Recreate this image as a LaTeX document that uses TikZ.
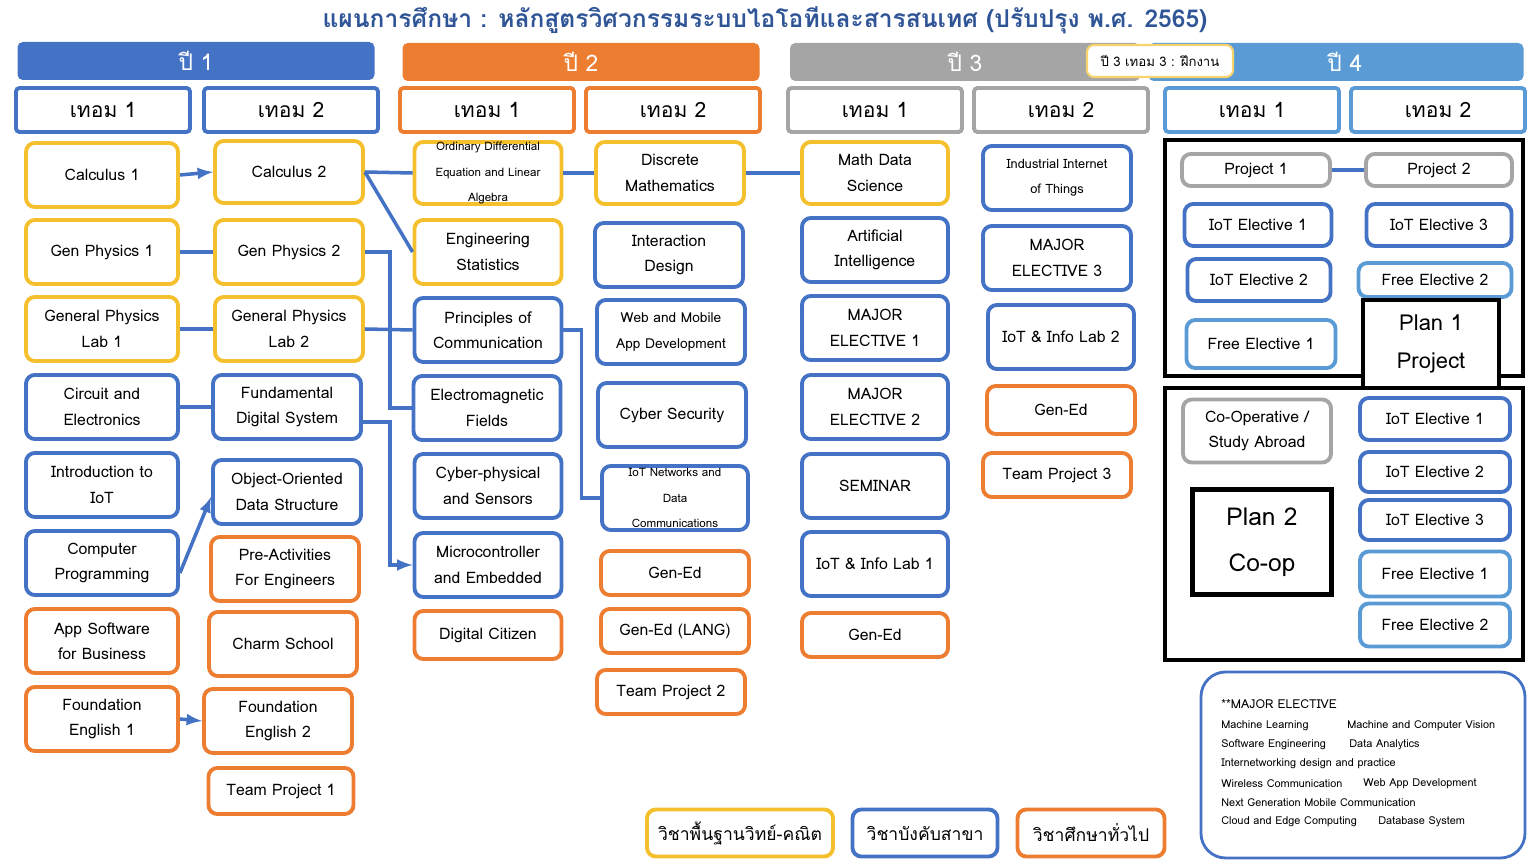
\documentclass[tikz,border=0pt]{standalone}
\usepackage{fontspec}
\setmainfont[Script=Thai]{Loma}
\usetikzlibrary{calc}
\definecolor{cY}{HTML}{F5C02E}
\definecolor{cB}{HTML}{4472C4}
\definecolor{cO}{HTML}{ED7D31}
\definecolor{cG}{HTML}{A5A5A5}
\definecolor{cL}{HTML}{5B9BD5}
\definecolor{cT}{HTML}{2F5597}
\tikzset{
 box/.style={draw, rounded corners=5pt, line width=2.2pt, fill=white, align=center, inner sep=0pt, font=\fontsize{9}{14.5}\selectfont},
 term/.style={box, rounded corners=2pt, font=\fontsize{12}{14}\selectfont},
 yr/.style={rounded corners=3pt, text=white, inner sep=0pt, font=\fontsize{13}{15}\selectfont},
 conn/.style={draw=cB, line width=2pt},
 arr/.style={conn, -latex},
 frame/.style={draw=black, line width=2.4pt},
}
\newcommand\bx[7]{\node[box,draw=#6,minimum width=#4*0.02cm,minimum height=#5*0.02cm] (#1) at (#2,#3) {#7};}
\newcommand\tm[4]{\node[term,draw=#3,minimum width=174*0.02cm,minimum height=44*0.02cm] (#1) at (#2,110) {#4};}
\begin{document}
\begin{tikzpicture}[x=0.02cm,y=-0.02cm]
\useasboundingbox (0,0) rectangle (1536,864);
\node[text=cT, font=\fontsize{14}{18}\selectfont\bfseries] (title) at (765,20) {แผนการศึกษา : หลักสูตรวิศวกรรมระบบไอโอทีและสารสนเทศ (ปรับปรุง พ.ศ. 2565)};
% years
\node[yr, fill=cB, minimum width=357*0.02cm, minimum height=38*0.02cm] (y1) at (196,61) {ปี 1};
\node[yr, fill=cO, minimum width=357*0.02cm, minimum height=38*0.02cm] (y2) at (581,62) {ปี 2};
\node[yr, fill=cG, minimum width=350*0.02cm, minimum height=38*0.02cm] (y3) at (965,62) {ปี 3};
\node[yr, fill=cL, minimum width=375*0.02cm, minimum height=38*0.02cm] (y4) at (1336,62) {\hspace*{10pt}ปี 4};
\node[box, draw=cY!70, line width=1.2pt, rounded corners=4pt, minimum width=146*0.02cm, minimum height=32*0.02cm, font=\fontsize{7.5}{9}\selectfont] (int) at (1160,61) {ปี 3 เทอม 3 : ฝึกงาน};
% terms
\tm{t11}{103}{cB}{เทอม 1}\tm{t12}{291}{cB}{เทอม 2}
\tm{t21}{487}{cO}{เทอม 1}\tm{t22}{673}{cO}{เทอม 2}
\tm{t31}{875}{cG}{เทอม 1}\tm{t32}{1061}{cG}{เทอม 2}
\tm{t41}{1252}{cL}{เทอม 1}\tm{t42}{1438}{cL}{เทอม 2}
% col 1
\bx{c11}{102}{175}{152}{64}{cY}{Calculus 1}
\bx{c12}{102}{252}{152}{64}{cY}{Gen Physics 1}
\bx{c13}{102}{329}{152}{64}{cY}{General Physics\\Lab 1}
\bx{c14}{102}{407}{152}{64}{cB}{Circuit and\\Electronics}
\bx{c15}{102}{485}{152}{64}{cB}{Introduction to\\IoT}
\bx{c16}{102}{563}{152}{64}{cB}{Computer\\Programming}
\bx{c17}{102}{641}{152}{64}{cO}{App Software\\for Business}
\bx{c18}{102}{719}{152}{64}{cO}{Foundation\\English 1}
% col 2
\bx{c21}{289}{172}{148}{62}{cY}{Calculus 2}
\bx{c22}{289}{252}{148}{64}{cY}{Gen Physics 2}
\bx{c23}{289}{329}{148}{64}{cY}{General Physics\\Lab 2}
\bx{c24}{287}{407}{148}{64}{cB}{Fundamental\\Digital System}
\bx{c25}{287}{492}{148}{64}{cB}{Object-Oriented\\Data Structure}
\bx{c26}{285}{569}{148}{64}{cO}{Pre-Activities\\For Engineers}
\bx{c27}{283}{644}{148}{64}{cO}{Charm School}
\bx{c28}{278}{721}{148}{64}{cO}{Foundation\\English 2}
\bx{c29}{281}{791}{145}{46}{cO}{Team Project 1}
% col 3
\bx{c31}{488}{173}{147}{62}{cY}{\fontsize{6.6}{11.5}\selectfont Ordinary Differential\\\fontsize{6.6}{11.5}\selectfont Equation and Linear\\\fontsize{6.6}{11.5}\selectfont Algebra}
\bx{c32}{488}{252}{147}{64}{cY}{Engineering\\Statistics}
\bx{c33}{488}{330}{147}{64}{cB}{Principles of\\Communication}
\bx{c34}{487}{408}{147}{64}{cB}{Electromagnetic\\Fields}
\bx{c35}{488}{486}{147}{64}{cB}{Cyber-physical\\and Sensors}
\bx{c36}{488}{565}{147}{64}{cB}{Microcontroller\\and Embedded}
\bx{c37}{488}{635}{147}{48}{cO}{Digital Citizen}
% col 4
\bx{c41}{670}{173}{148}{62}{cY}{Discrete\\Mathematics}
\bx{c42}{669}{255}{148}{64}{cB}{Interaction\\Design}
\bx{c43}{671}{332}{148}{64}{cB}{\fontsize{7.8}{11.5}\selectfont Web and Mobile\\\fontsize{7.8}{11.5}\selectfont App Development}
\bx{c44}{672}{415}{148}{64}{cB}{Cyber Security}
\bx{c45}{675}{498}{146}{64}{cB}{\fontsize{6.6}{12}\selectfont IoT Networks and\\\fontsize{6.6}{12}\selectfont Data\\\fontsize{6.6}{12}\selectfont Communications}
\bx{c46}{675}{573}{148}{44}{cO}{Gen-Ed}
\bx{c47}{675}{631}{148}{44}{cO}{Gen-Ed (LANG)}
\bx{c48}{671}{692}{148}{44}{cO}{Team Project 2}
% col 5
\bx{c51}{875}{173}{146}{62}{cY}{Math Data\\Science}
\bx{c52}{875}{250}{146}{64}{cB}{Artificial\\Intelligence}
\bx{c53}{875}{328}{146}{64}{cB}{MAJOR\\ELECTIVE 1}
\bx{c54}{875}{407}{146}{64}{cB}{MAJOR\\ELECTIVE 2}
\bx{c55}{875}{486}{146}{64}{cB}{SEMINAR}
\bx{c56}{875}{564}{146}{64}{cB}{IoT \& Info Lab 1}
\bx{c57}{875}{635}{146}{44}{cO}{Gen-Ed}
% col 6
\bx{c61}{1057}{178}{148}{64}{cB}{\fontsize{7.3}{11.5}\selectfont Industrial Internet\\\fontsize{7.3}{11.5}\selectfont of Things}
\bx{c62}{1057}{258}{148}{64}{cB}{MAJOR\\ELECTIVE 3}
\bx{c63}{1061}{337}{146}{64}{cB}{IoT \& Info Lab 2}
\bx{c64}{1061}{410}{148}{48}{cO}{Gen-Ed}
\bx{c65}{1057}{475}{148}{44}{cO}{Team Project 3}
% year 4 frames
\node[frame, minimum width=358*0.02cm, minimum height=236*0.02cm, inner sep=0pt] (f1) at (1344,258) {};
\node[frame, minimum width=358*0.02cm, minimum height=272*0.02cm, inner sep=0pt] (f2) at (1344,524) {};
\bx{p1}{1256}{170}{148}{32}{cG}{Project 1}
\bx{p2}{1439}{170}{146}{32}{cG}{Project 2}
\bx{e1}{1258}{225}{147}{42}{cB}{IoT Elective 1}
\bx{e3}{1439}{225}{145}{42}{cB}{IoT Elective 3}
\bx{e2}{1259}{280}{143}{42}{cB}{IoT Elective 2}
\bx{fe2}{1435}{280}{153}{34}{cL}{Free Elective 2}
\bx{fe1}{1261}{344}{149}{48}{cL}{Free Elective 1}
\node[frame, fill=white, minimum width=136*0.02cm, minimum height=88*0.02cm, align=center, inner sep=0pt, font=\fontsize{12.5}{22}\selectfont] (pl1) at (1431,344) {Plan 1\\Project};
\bx{co}{1257}{431}{148}{63}{cG}{Co-Operative /\\Study Abroad}
\node[frame, fill=white, minimum width=139*0.02cm, minimum height=105*0.02cm, align=center, inner sep=0pt, font=\fontsize{14}{26}\selectfont] (pl2) at (1262,542) {Plan 2\\Co-op};
\bx{f2e1}{1435}{419}{150}{42}{cB}{IoT Elective 1}
\bx{f2e2}{1435}{472}{150}{40}{cB}{IoT Elective 2}
\bx{f2e3}{1435}{520}{150}{40}{cB}{IoT Elective 3}
\bx{f2f1}{1435}{574}{150}{45}{cL}{Free Elective 1}
\bx{f2f2}{1435}{625}{150}{43}{cL}{Free Elective 2}
% legend
\node[box, draw=cY, minimum width=186*0.02cm, minimum height=47*0.02cm, font=\fontsize{10}{12}\selectfont] (lg1) at (740,833) {วิชาพื้นฐานวิทย์-คณิต};
\node[box, draw=cB, minimum width=145*0.02cm, minimum height=47*0.02cm, font=\fontsize{10}{12}\selectfont] (lg2) at (925,833) {วิชาบังคับสาขา};
\node[box, draw=cO, minimum width=147*0.02cm, minimum height=47*0.02cm, font=\fontsize{10}{12}\selectfont] (lg3) at (1091,833) {วิชาศึกษาทั่วไป};
% major elective box
\node[draw=cB, line width=1.6pt, rounded corners=14pt, minimum width=324*0.02cm, minimum height=186*0.02cm] (me) at (1363,765) {};
\begin{scope}[every node/.style={anchor=west, inner sep=0pt, font=\fontsize{6.2}{7}\selectfont}]
\node (m0) at (1221,704) {\fontsize{7}{8}\selectfont **MAJOR ELECTIVE};
\node (m1) at (1221,726) {Machine Learning};
\node (m1b) at (1347,726) {Machine and Computer Vision};
\node (m2) at (1221,745) {Software Engineering};
\node (m2b) at (1349,745) {Data Analytics};
\node (m3) at (1221,764) {Internetworking design and practice};
\node (m4) at (1221,784) {Wireless Communication};
\node (m4b) at (1363,784) {Web App Development};
\node (m5) at (1221,803) {Next Generation Mobile Communication};
\node (m6) at (1221,822) {Cloud and Edge Computing};
\node (m6b) at (1378,822) {Database System};
\end{scope}
% connectors
\draw[arr] (c11.east) -- (c21.west);
\draw[conn] (c21.east) -- (c31.west);
\draw[conn] (c21.east) -- (c32.west);
\draw[conn] (c31.east) -- (c41.west);
\draw[conn] (c41.east) -- (c51.west);
\draw[conn] (c12.east) -- (c22.west);
\draw[conn] (c22.east) -- ++(25,0) |- (c34.west);
\draw[conn] (c13.east) -- (c23.west);
\draw[conn] (c23.east) -- (c33.west);
\draw[conn] (c33.east) -- ++(18,0) |- (c45.west);
\draw[conn] (c14.east) -- (c24.west);
\draw[arr] ([yshift=-0.3cm]c24.east) -- ++(27,0) |- (c36.west);
\draw[arr] ([yshift=-0.2cm]c16.east) -- ([yshift=-0.1cm]c25.west);
\draw[arr] (c18.east) -- (c28.west);
\draw[conn] (p1.east) -- (p2.west);
\end{tikzpicture}
\end{document}
